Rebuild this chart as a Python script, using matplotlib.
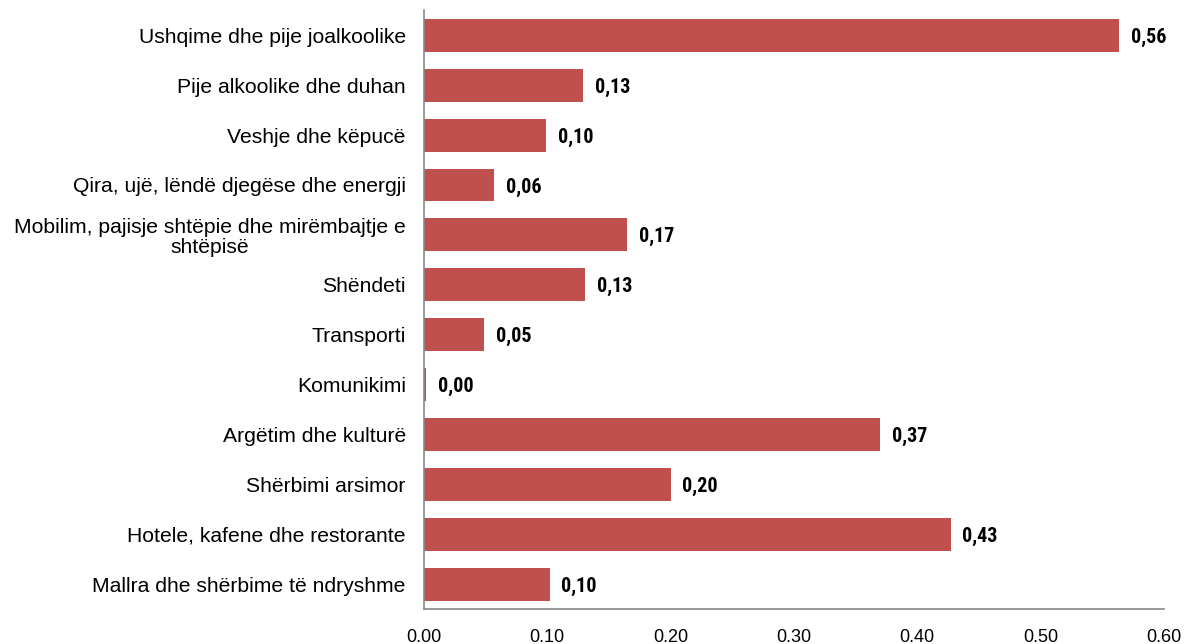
import matplotlib.pyplot as plt
from matplotlib import font_manager

categories = [
    "Ushqime dhe pije joalkoolike",
    "Pije alkoolike dhe duhan",
    "Veshje dhe këpucë",
    "Qira, ujë, lëndë djegëse dhe energji",
    "Mobilim, pajisje shtëpie dhe mirëmbajtje e\nshtëpisë",
    "Shëndeti",
    "Transporti",
    "Komunikimi",
    "Argëtim dhe kulturë",
    "Shërbimi arsimor",
    "Hotele, kafene dhe restorante",
    "Mallra dhe shërbime të ndryshme",
]
values = [0.564, 0.129, 0.099, 0.057, 0.165, 0.131, 0.049, 0.002, 0.370, 0.200, 0.427, 0.102]
value_labels = ["0,56", "0,13", "0,10", "0,06", "0,17", "0,13", "0,05", "0,00", "0,37", "0,20", "0,43", "0,10"]
xticks = [0.0, 0.1, 0.2, 0.3, 0.4, 0.5, 0.6]

# condensed bold font for the value labels if one is around
names = {f.name for f in font_manager.fontManager.ttflist}
narrow = None
for cand in ["Liberation Sans Narrow", "DejaVu Sans Condensed", "Roboto Condensed", "Open Sans Condensed"]:
    if cand in names:
        narrow = cand
        break
val_size = 14.5 if narrow else 13.5
val_family = [narrow or "Liberation Sans", "DejaVu Sans"]

plt.rcParams['font.family'] = ['Liberation Sans', 'DejaVu Sans']

fig = plt.figure(figsize=(11.84, 6.44), dpi=100)
ax = fig.add_axes([0.358, 0.054, 0.625, 0.930])

pos = list(range(len(categories)))
ax.barh(pos, values, height=0.66, color='#C0504D')
for p, v, lab in zip(pos, values, value_labels):
    ax.text(v + 0.0095, p + 0.04, lab, va='center', ha='left',
            fontsize=val_size, fontweight='bold', family=val_family)

ax.set_ylim(len(categories) - 0.5, -0.5)
ax.set_xlim(0, 0.6)
ax.set_yticks(pos)
ax.set_yticklabels(categories, fontsize=15.2, multialignment='center', linespacing=1.05)
ax.set_xticks(xticks)
ax.set_xticklabels([f"{t:.2f}" for t in xticks], fontsize=13)
ax.tick_params(axis='both', length=0)
ax.tick_params(axis='x', pad=14)
ax.tick_params(axis='y', pad=13)

for s in ['top', 'right']:
    ax.spines[s].set_visible(False)
for s in ['left', 'bottom']:
    ax.spines[s].set_color('#888888')
    ax.spines[s].set_linewidth(1.2)

fig.savefig('out.png', dpi=100)
